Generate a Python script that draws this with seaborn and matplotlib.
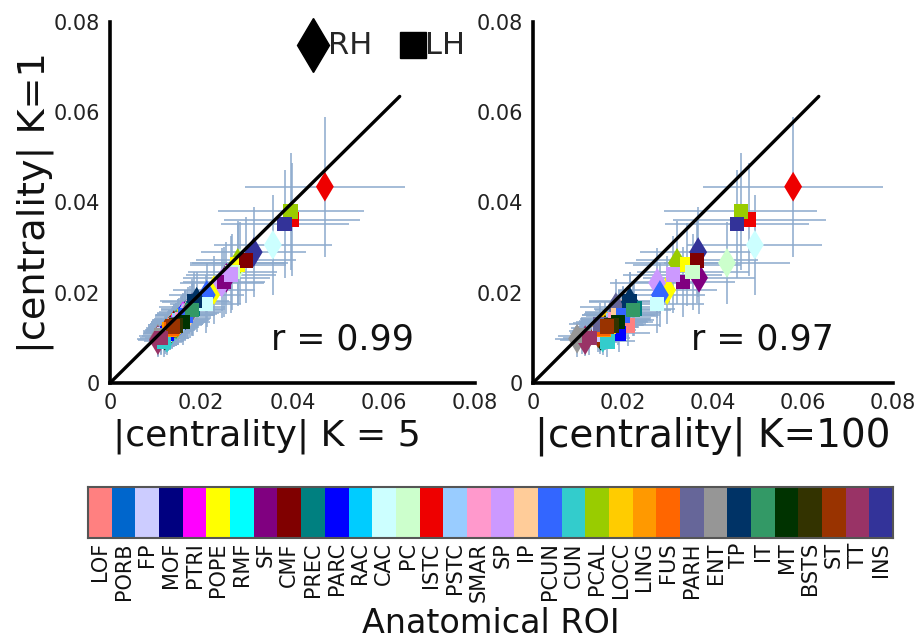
import seaborn as sns
import matplotlib.pyplot as plt
import numpy as np
import pandas as pd
from matplotlib.colors import ListedColormap

rois = ['LOF', 'PORB', 'FP', 'MOF', 'PTRI', 'POPE', 'RMF', 'SF', 'CMF', 'PREC', 'PARC',
        'RAC', 'CAC', 'PC', 'ISTC', 'PSTC', 'SMAR', 'SP', 'IP', 'PCUN', 'CUN', 'PCAL',
        'LOCC', 'LING', 'FUS', 'PARH', 'ENT', 'TP', 'IT', 'MT', 'BSTS', 'ST', 'TT', 'INS']
roi_colors = ['#FF8080', '#0066CC', '#CCCCFF', '#000080', '#FF00FF', '#FFFF00', '#00FFFF',
              '#800080', '#800000', '#008080', '#0000FF', '#00CCFF', '#CCFFFF', '#CCFFCC',
              '#EE0000', '#99CCFF', '#FF99CC', '#CC99FF', '#FFCC99', '#3366FF', '#33CCCC',
              '#99CC00', '#FFCC00', '#FF9900', '#FF6600', '#666699', '#969696', '#003366',
              '#339966', '#003300', '#333300', '#993300', '#993366', '#333399']

# |centrality| K=1 (y axis, same in both panels)
k1_rh = [.0115, .0135, .0120, .0150, .0148, .0206, .0130, .0233, .0128, .0155, .0140, .0112,
         .0306, .0266, .0435, .0145, .0152, .0222, .0158, .0195, .0100, .0266, .0132, .0122,
         .0115, .0168, .0098, .0180, .0130, .0105, .0118, .0110, .0095, .0290]
k1_lh = [.0128, .0118, .0108, .0140, .0135, .0262, .0125, .0224, .0272, .0165, .0110, .0118,
         .0175, .0246, .0362, .0138, .0142, .0240, .0150, .0150, .0092, .0380, .0125, .0118,
         .0120, .0130, .0105, .0182, .0162, .0135, .0128, .0125, .0100, .0352]
k1_err_rh = [.0045, .0050, .0042, .0055, .0052, .0075, .0048, .0080, .0046, .0058, .0050, .0040,
             .0110, .0090, .0155, .0052, .0055, .0078, .0058, .0070, .0038, .0092, .0048, .0045,
             .0042, .0062, .0040, .0066, .0048, .0040, .0044, .0041, .0036, .0100]
k1_err_lh = [.0047, .0044, .0040, .0052, .0050, .0092, .0046, .0078, .0095, .0060, .0042, .0043,
             .0064, .0085, .0125, .0050, .0052, .0085, .0055, .0056, .0035, .0130, .0046, .0044,
             .0044, .0048, .0040, .0065, .0058, .0050, .0047, .0046, .0038, .0120]

# |centrality| K=5
k5_rh = [.0128, .0150, .0132, .0165, .0160, .0228, .0145, .0255, .0140, .0170, .0155, .0125,
         .0357, .0285, .0471, .0160, .0168, .0245, .0175, .0212, .0125, .0280, .0148, .0135,
         .0130, .0180, .0105, .0190, .0145, .0120, .0132, .0122, .0105, .0315]
k5_lh = [.0140, .0132, .0120, .0155, .0150, .0280, .0138, .0250, .0298, .0182, .0125, .0130,
         .0210, .0268, .0399, .0152, .0158, .0265, .0165, .0165, .0118, .0396, .0140, .0130,
         .0135, .0145, .0112, .0185, .0180, .0160, .0145, .0138, .0112, .0383]
k5_err_rh = [.0055, .0060, .0050, .0065, .0062, .0090, .0058, .0095, .0056, .0068, .0060, .0050,
             .0130, .0105, .0175, .0062, .0066, .0092, .0068, .0082, .0048, .0105, .0058, .0055,
             .0052, .0072, .0045, .0076, .0058, .0050, .0054, .0050, .0044, .0115]
k5_err_lh = [.0056, .0052, .0048, .0062, .0060, .0105, .0055, .0090, .0110, .0070, .0050, .0052,
             .0078, .0098, .0150, .0060, .0062, .0098, .0065, .0066, .0044, .0160, .0055, .0053,
             .0054, .0058, .0048, .0075, .0068, .0060, .0056, .0055, .0046, .0140]

# |centrality| K=100
k100_rh = [.0150, .0175, .0160, .0190, .0195, .0298, .0172, .0369, .0175, .0200, .0190, .0150,
           .0493, .0431, .0578, .0185, .0195, .0276, .0200, .0282, .0155, .0320, .0160, .0150,
           .0150, .0184, .0098, .0215, .0180, .0150, .0160, .0145, .0116, .0367]
k100_lh = [.0210, .0160, .0148, .0185, .0180, .0342, .0165, .0333, .0364, .0225, .0190, .0158,
           .0276, .0355, .0480, .0178, .0182, .0311, .0190, .0200, .0165, .0462, .0168, .0158,
           .0155, .0150, .0110, .0215, .0222, .0189, .0175, .0164, .0125, .0453]
k100_err_rh = [.0070, .0075, .0065, .0080, .0078, .0110, .0072, .0125, .0070, .0085, .0078, .0064,
               .0150, .0140, .0200, .0078, .0082, .0105, .0085, .0100, .0060, .0115, .0070, .0066,
               .0064, .0080, .0050, .0090, .0072, .0064, .0068, .0062, .0055, .0130]
k100_err_lh = [.0072, .0066, .0060, .0078, .0075, .0120, .0068, .0115, .0135, .0090, .0070, .0065,
               .0105, .0125, .0170, .0075, .0078, .0110, .0080, .0082, .0062, .0170, .0068, .0065,
               .0066, .0070, .0055, .0090, .0085, .0078, .0072, .0070, .0058, .0160]

r_values = ['0.99', '0.97']
x_labels = ['|centrality| K = 5', '|centrality| K=100']

sns.set_theme(style='white')
plt.rcParams['font.family'] = ['DejaVu Sans']

df = pd.DataFrame({'roi': rois, 'k1_rh': k1_rh, 'k1_lh': k1_lh,
                   'k5_rh': k5_rh, 'k5_lh': k5_lh, 'k100_rh': k100_rh, 'k100_lh': k100_lh})
pal = dict(zip(rois, roi_colors))
err_color = '#8CAACD'

fig = plt.figure(figsize=(9.18, 6.44), dpi=100)
ax1 = fig.add_axes([0.1198, 0.4053, 0.3976, 0.5606])
ax2 = fig.add_axes([0.5806, 0.4053, 0.3922, 0.5606])

panels = [(ax1, 'k5', k5_err_rh, k5_err_lh), (ax2, 'k100', k100_err_rh, k100_err_lh)]
label_sizes = [26, 28]
label_x = [0.43, 0.5]
for i, (ax, key, xe_rh, xe_lh) in enumerate(panels):
    ax.errorbar(df[key + '_rh'], df['k1_rh'], xerr=xe_rh, yerr=k1_err_rh, fmt='none',
                ecolor=err_color, elinewidth=1.1, zorder=1)
    ax.errorbar(df[key + '_lh'], df['k1_lh'], xerr=xe_lh, yerr=k1_err_lh, fmt='none',
                ecolor=err_color, elinewidth=1.1, zorder=1)
    sns.scatterplot(data=df, x=key + '_rh', y='k1_rh', hue='roi', palette=pal, marker='d',
                    s=230, linewidth=0, legend=False, ax=ax, zorder=3)
    sns.scatterplot(data=df, x=key + '_lh', y='k1_lh', hue='roi', palette=pal, marker='s',
                    s=110, linewidth=0, legend=False, ax=ax, zorder=4)
    ax.plot([0, 0.0635], [0, 0.0635], color='black', lw=2.4, zorder=5)
    ax.set_xlim(0, 0.08)
    ax.set_ylim(0, 0.08)
    ticks = [0, 0.02, 0.04, 0.06, 0.08]
    ax.set_xticks(ticks)
    ax.set_xticklabels(['0', '0.02', '0.04', '0.06', '0.08'])
    ax.set_yticks(ticks)
    ax.set_yticklabels(['0', '0.02', '0.04', '0.06', '0.08'])
    ax.tick_params(direction='in', length=4, width=0.8, color='#555555', labelsize=15,
                   labelcolor='#222222', pad=7)
    for side in ['top', 'right']:
        ax.spines[side].set_visible(False)
    for side in ['left', 'bottom']:
        ax.spines[side].set_linewidth(2.6)
        ax.spines[side].set_color('black')
    ax.set_xlabel(x_labels[i], fontsize=label_sizes[i], color='#111111')
    ax.xaxis.set_label_coords(label_x[i], -0.148, transform=ax.transAxes)
    ax.xaxis.label.set_va('center')
    ax.set_ylabel('')
    ax.text(0.44, 0.12, 'r = ' + r_values[i], transform=ax.transAxes, fontsize=25,
            va='center', ha='left', color='#111111')

ax1.set_ylabel('|centrality| K=1', fontsize=27.5, color='#111111', labelpad=0)

# legend markers
ax1.plot([0.556], [0.936], marker='d', ms=27, color='black', transform=ax1.transAxes,
         clip_on=False, linestyle='none')
ax1.text(0.597, 0.936, 'RH', transform=ax1.transAxes, fontsize=22, va='center')
ax1.plot([0.83], [0.936], marker='s', ms=19, color='black', transform=ax1.transAxes,
         clip_on=False, linestyle='none')
ax1.text(0.862, 0.936, 'LH', transform=ax1.transAxes, fontsize=22, va='center')

# ROI colour bar
cax = fig.add_axes([0.0959, 0.1646, 0.877, 0.0792])
sns.heatmap(np.arange(len(rois))[None, :], cmap=ListedColormap(roi_colors), cbar=False,
            ax=cax, xticklabels=rois, yticklabels=False, linewidths=0)
cax.tick_params(axis='x', length=0, labelsize=15, rotation=90, pad=3, labelcolor='#111111')
for sp in cax.spines.values():
    sp.set_visible(True)
    sp.set_color('#555555')
    sp.set_linewidth(1.5)
cax.set_xlabel('Anatomical ROI', fontsize=24, color='#111111', labelpad=4)

fig.savefig('out.png', dpi=100)
